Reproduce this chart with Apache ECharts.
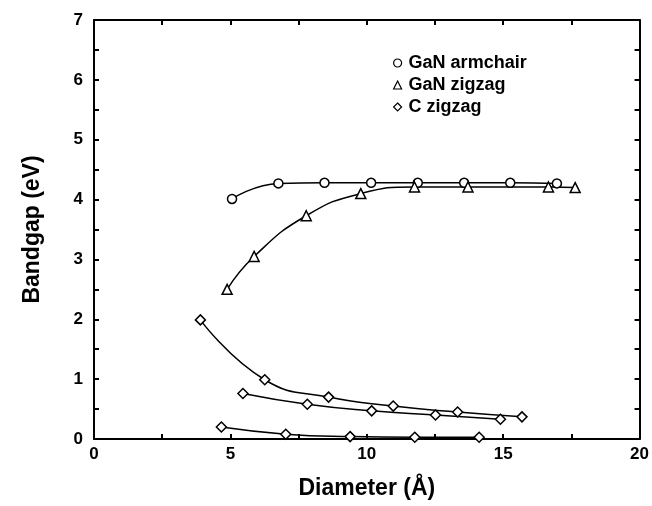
<!DOCTYPE html>
<html>
<head>
<meta charset="utf-8">
<script src="https://cdn.jsdelivr.net/npm/echarts@6/dist/echarts.min.js"></script>
<style>
html,body{margin:0;padding:0;background:#fff;}
#chart{width:652px;height:506px;}
</style>
</head>
<body>
<div id="chart"></div>
<script>
// Data
var armchairX = [5.06, 6.76, 8.45, 10.16, 11.87, 13.57, 15.26, 16.97];
var armchairY = [4.01, 4.27, 4.28, 4.28, 4.28, 4.28, 4.28, 4.27];

var zigzagX = [4.88, 5.87, 7.78, 9.78, 11.75, 13.71, 16.66, 17.64];
var zigzagY = [2.50, 3.05, 3.73, 4.10, 4.21, 4.21, 4.21, 4.20];

var cA_X = [3.90, 6.26, 8.60, 10.97, 13.33, 15.69];
var cA_Y = [1.99, 0.99, 0.70, 0.55, 0.45, 0.37];

var cB_X = [5.46, 7.82, 10.18, 12.52, 14.90];
var cB_Y = [0.76, 0.58, 0.47, 0.40, 0.33];

var cC_X = [4.67, 7.03, 9.39, 11.76, 14.12];
var cC_Y = [0.20, 0.08, 0.04, 0.03, 0.03];

var xTicks = [0, 5, 10, 15, 20];
var yTicks = [0, 1, 2, 3, 4, 5, 6, 7];

var legendNames = ['GaN armchair', 'GaN zigzag', 'C zigzag'];
var legendIcons = ['circle', 'triangle', 'diamond'];

function pairs(xs, ys) { return xs.map(function (x, i) { return [x, ys[i]]; }); }

var FONT = '"Liberation Sans", Arial, Helvetica, sans-serif';

function mkSeries(name, xs, ys, symbol, size) {
  return {
    name: name,
    type: 'line',
    xAxisIndex: 0, yAxisIndex: 0,
    data: pairs(xs, ys),
    smooth: 0.5,
    symbol: symbol,
    symbolSize: size,
    showAllSymbol: true,
    itemStyle: { color: '#fff', borderColor: '#000', borderWidth: 1.5 },
    lineStyle: { color: '#000', width: 1.5 },
    emphasis: { disabled: true },
    z: 3
  };
}

var tickCommon = {
  axisLine: { show: true, onZero: false, lineStyle: { color: '#000', width: 2 } },
  axisTick: { show: true, inside: true, length: 5, lineStyle: { color: '#000', width: 2 } },
  minorTick: { show: true, splitNumber: 2, length: 5, lineStyle: { color: '#000', width: 2 } },
  splitLine: { show: false },
  minorSplitLine: { show: false }
};

var chart = echarts.init(document.getElementById('chart'), null, { renderer: 'canvas' });
chart.setOption({
  backgroundColor: '#fff',
  animation: false,
  grid: { left: 94, right: 11, top: 20, bottom: 67, containLabel: false },
  legend: {
    orient: 'vertical',
    left: 388,
    top: 49,
    itemWidth: 8,
    itemHeight: 8,
    itemGap: 4,
    selectedMode: false,
    data: legendNames.map(function (n, i) { return { name: n, icon: legendIcons[i] }; }),
    itemStyle: { color: '#fff', borderColor: '#000', borderWidth: 1.2 },
    textStyle: { fontFamily: FONT, fontWeight: 'bold', fontSize: 18, color: '#000', padding: [0, 0, 0, 2] }
  },
  xAxis: [
    Object.assign({
      type: 'value', min: 0, max: 20, interval: 5, position: 'bottom',
      name: 'Diameter (Å)', nameLocation: 'middle', nameGap: 38,
      nameTextStyle: { fontFamily: FONT, fontWeight: 'bold', fontSize: 23, color: '#000' },
      axisLabel: {
        show: true, margin: 7, color: '#000', fontFamily: FONT, fontWeight: 'bold', fontSize: 17,
        formatter: function (v) { return xTicks.indexOf(v) >= 0 ? String(v) : ''; }
      }
    }, tickCommon),
    Object.assign({
      type: 'value', min: 0, max: 20, interval: 5, position: 'top',
      axisLabel: { show: false }
    }, tickCommon)
  ],
  yAxis: [
    Object.assign({
      type: 'value', min: 0, max: 7, interval: 1, position: 'left',
      name: 'Bandgap (eV)', nameLocation: 'middle', nameGap: 50,
      nameTextStyle: { fontFamily: FONT, fontWeight: 'bold', fontSize: 23, color: '#000' },
      axisLabel: {
        show: true, margin: 11, color: '#000', fontFamily: FONT, fontWeight: 'bold', fontSize: 17,
        formatter: function (v) { return yTicks.indexOf(v) >= 0 ? String(v) : ''; }
      }
    }, tickCommon),
    Object.assign({
      type: 'value', min: 0, max: 7, interval: 1, position: 'right',
      axisLabel: { show: false }
    }, tickCommon)
  ],
  series: [
    mkSeries('GaN armchair', armchairX, armchairY, 'circle', 9),
    mkSeries('GaN zigzag', zigzagX, zigzagY, 'triangle', 10),
    mkSeries('C zigzag', cA_X, cA_Y, 'diamond', 10),
    mkSeries('C zigzag', cB_X, cB_Y, 'diamond', 10),
    mkSeries('C zigzag', cC_X, cC_Y, 'diamond', 10)
  ]
});
</script>
</body>
</html>
